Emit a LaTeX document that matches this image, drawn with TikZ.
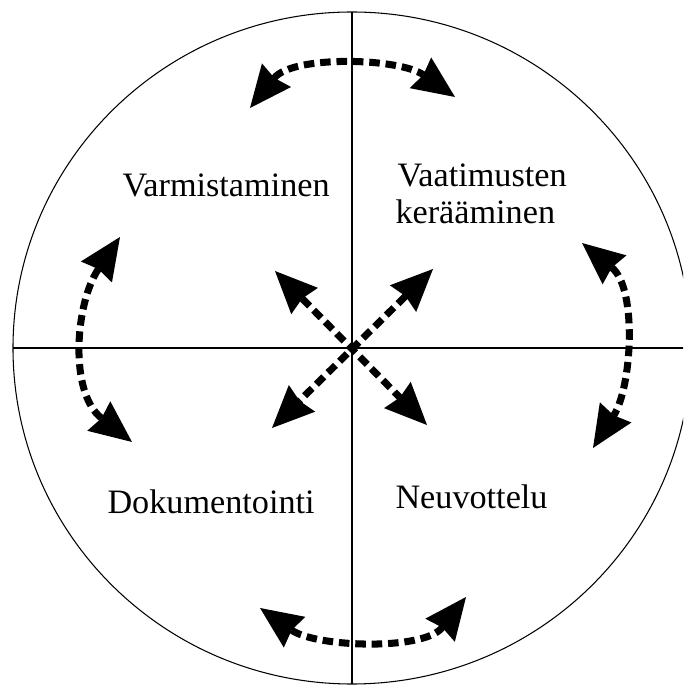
\documentclass[tikz,border=0pt]{standalone}
\usepackage{fontspec}
\setmainfont{Liberation Serif}
\usetikzlibrary{arrows.meta}

\begin{document}
\begin{tikzpicture}[x=0.03cm,y=0.03cm,line width=0.9pt,
    >={Stealth[length=36pt,width=32pt,inset=3pt,line width=0pt]},
    flow/.style={<->,line width=6pt,dash pattern=on 9pt off 5pt},
    lbl/.style={anchor=base west,inner sep=0pt,font=\fontsize{29.2}{33}\selectfont}]
  \useasboundingbox (-352,-337) rectangle (331,348);
  \clip (-352,-337) rectangle (331,348);
  \draw (0,0) ellipse [x radius=339,y radius=336];
  \draw (-339,0) -- (339,0);
  \draw (0,336) -- (0,-336);
  % arrow tips round the circle
  \coordinate (t1) at (-102,240);
  \coordinate (t2) at (103,251);
  \coordinate (b1) at (-92,-260);
  \coordinate (b2) at (114,-249);
  \coordinate (l1) at (-232,111);
  \coordinate (l2) at (-220,-94);
  \coordinate (r1) at (230,105);
  \coordinate (r2) at (241,-100);
  \foreach \a/\b/\o/\i/\l in {t1/t2/51/145/0.85,b1/b2/-35/232/0.85,
                              l1/l2/236/142/1,r1/r2/-39.5/57.5/0.9} {
    \draw[flow] (\a) to[out=\o,in=\i,looseness=\l] (\b);
  }
  % the cross in the middle
  \coordinate (ul) at (-77,77);
  \coordinate (ur) at (81,79);
  \coordinate (ll) at (-80,-80);
  \coordinate (lr) at (75,-77);
  \draw[flow] (ul) -- (lr);
  \draw[flow] (ur) -- (ll);
  \node[lbl] (varm) at (-230,151) {Varmistaminen};
  \node[lbl] (vaat) at (45,161) {Vaatimusten};
  \node[lbl] (ker) at (43,124) {kerääminen};
  \node[lbl] (dok) at (-245,-165) {Dokumentointi};
  \node[lbl] (neuv) at (43,-160) {Neuvottelu};
\end{tikzpicture}
\end{document}
